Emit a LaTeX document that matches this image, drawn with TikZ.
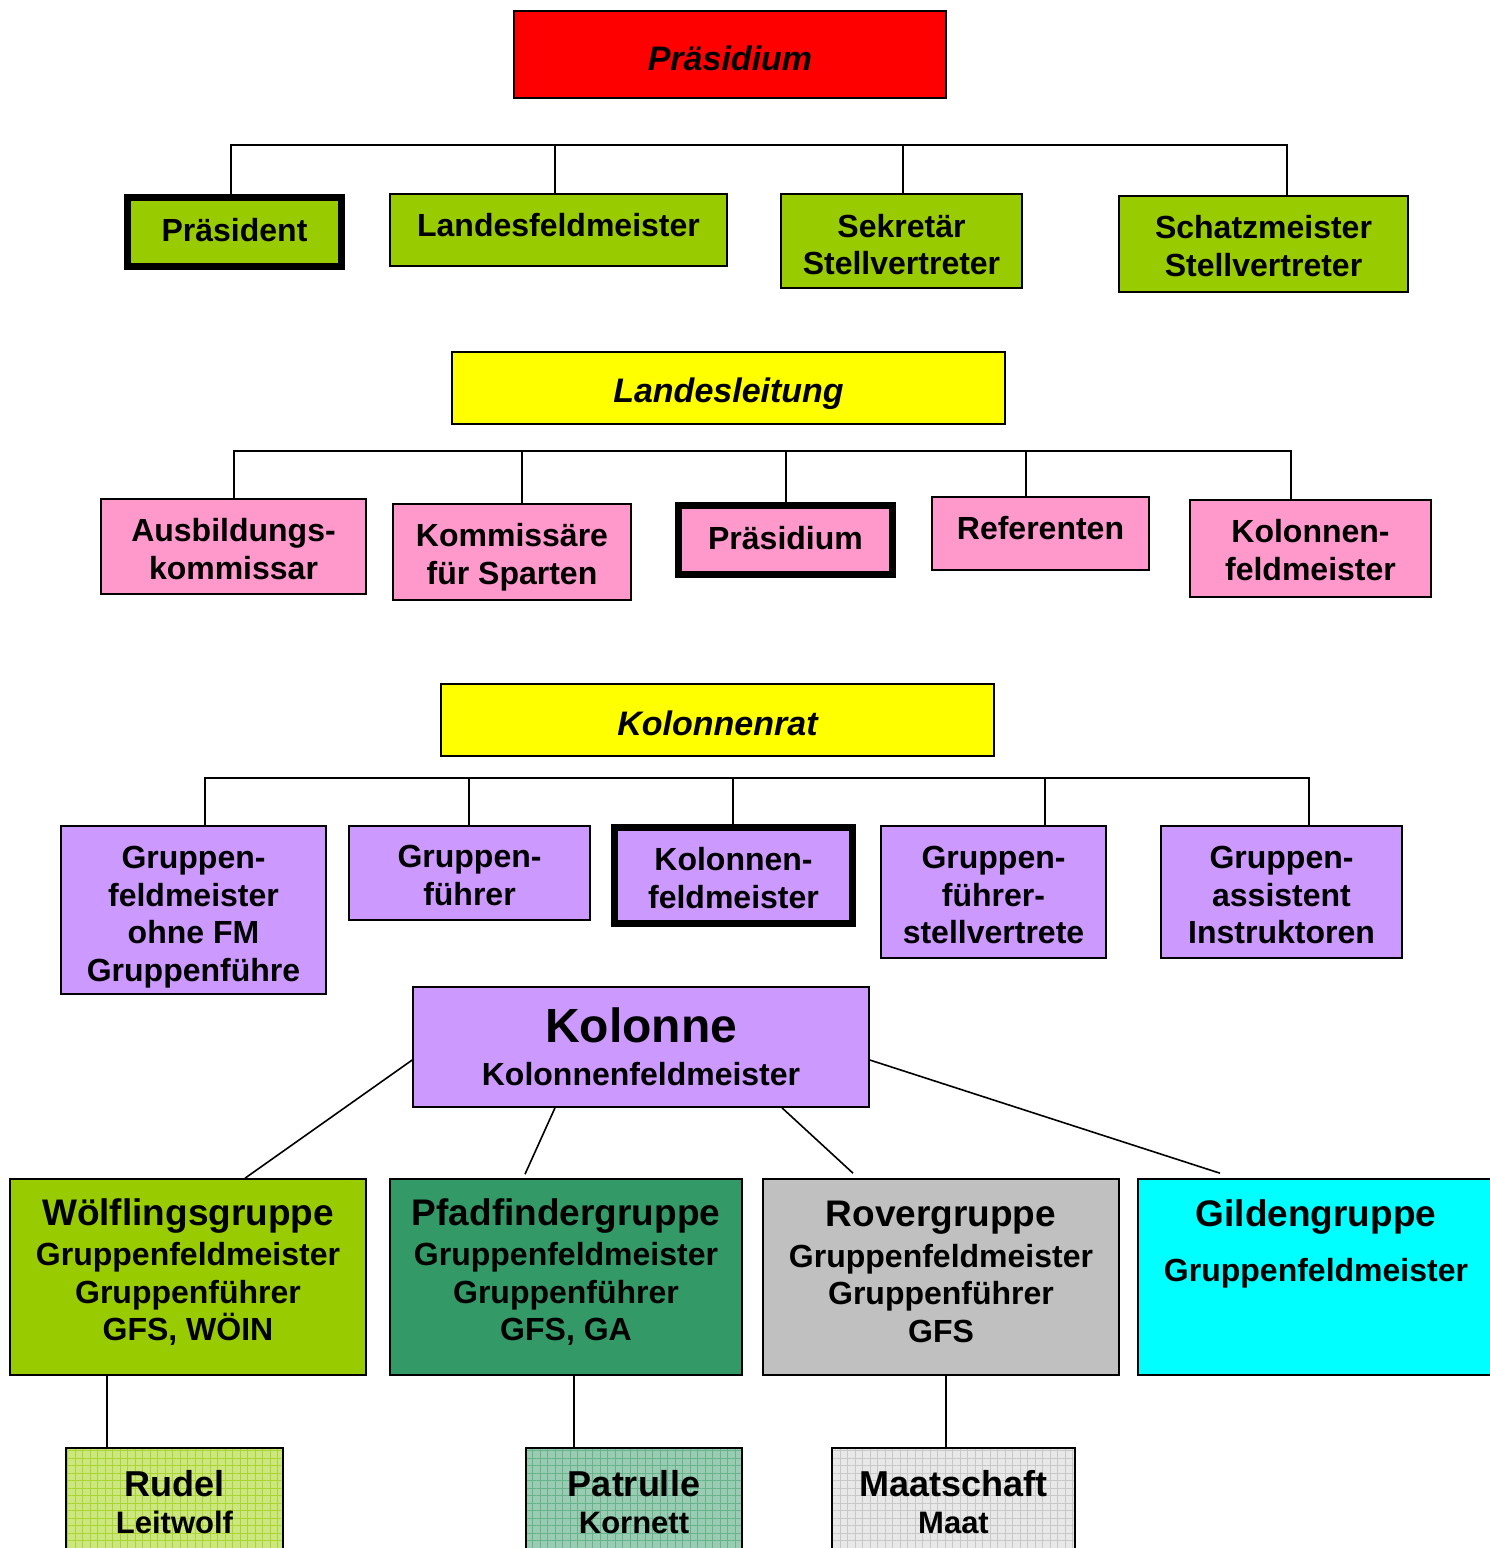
\documentclass[tikz,border=0pt]{standalone}
\usepackage{fontspec}
\setmainfont{Liberation Sans}
\usetikzlibrary{patterns.meta}
\definecolor{cred}{HTML}{FF0000}
\definecolor{cyel}{HTML}{FFFF00}
\definecolor{cgrn}{HTML}{99CC00}
\definecolor{cpink}{HTML}{FF99CC}
\definecolor{cpur}{HTML}{CC99FF}
\definecolor{cdgrn}{HTML}{339966}
\definecolor{cgray}{HTML}{C0C0C0}
\definecolor{ccyan}{HTML}{00FFFF}
\definecolor{lgrn}{HTML}{CCE680}
\definecolor{lgrnl}{HTML}{AAD530}
\definecolor{ldgrn}{HTML}{99CCB3}
\definecolor{ldgrnl}{HTML}{66B38C}
\definecolor{lgray}{HTML}{E8E8E8}
\definecolor{lgrayl}{HTML}{C8C8C8}
\newcommand\szT{\fontsize{34}{40}\bfseries\itshape\selectfont}
\newcommand\szB{\fontsize{32}{37.7}\bfseries\selectfont}
\newcommand\szG{\fontsize{37}{41}\bfseries\selectfont}
\newcommand\szK{\fontsize{48}{48}\bfseries\selectfont}
\newcommand\szR{\fontsize{36}{41}\bfseries\selectfont}
\newcommand\szS{\fontsize{31}{41}\bfseries\selectfont}
\begin{document}
\begin{tikzpicture}[x=1pt,y=-1pt,
  bx/.style={draw=black, line width=1.6pt, inner sep=0pt},
  thk/.style={line width=7pt},
  ln/.style={draw=black, line width=1.6pt},
  txt/.style={inner sep=0pt, align=center, font=\szB},
  grid box/.style 2 args={bx, preaction={fill=#1}, pattern={Hatch[angle=0,distance=7.5pt,line width=0.8pt]}, pattern color=#2}
]
\useasboundingbox (0,0) rectangle (1490,1548);

% ---------- Praesidium ----------
\node[bx, fill=cred, minimum width=432, minimum height=87] (praes) at (730,54.5) {};
\node[txt, font=\szT] (praest) at ([yshift=-4]praes.center) {Präsidium};
\node[bx, thk, fill=cgrn, minimum width=214, minimum height=69] (pres) at (234.5,232) {};
\node[txt] (prest) at ([yshift=2]pres.center) {Präsident};
\node[bx, fill=cgrn, minimum width=337, minimum height=72] (lfm) at (558.5,230) {};
\node[txt] (lfmt) at ([yshift=5]lfm.center) {Landesfeldmeister};
\node[bx, fill=cgrn, minimum width=241, minimum height=94] (sek) at (901.5,241) {};
\node[txt] (sekt) at ([yshift=-3.5]sek.center) {Sekretär\\Stellvertreter};
\node[bx, fill=cgrn, minimum width=289, minimum height=96] (schatz) at (1263.5,244) {};
\node[txt] (schatzt) at ([yshift=-2]schatz.center) {Schatzmeister\\Stellvertreter};

\coordinate (bus1) at (0,145);
\coordinate (t1a) at ([xshift=-3.5]pres.north);
\coordinate (t1b) at ([xshift=-3.5]lfm.north);
\coordinate (t1c) at ([xshift=1.5]sek.north);
\coordinate (t1d) at ([xshift=23.5]schatz.north);
\draw[ln] (t1a) -- (t1a |- bus1) -- (t1d |- bus1) -- (t1d);
\draw[ln] (t1b) -- (t1b |- bus1);
\draw[ln] (t1c) -- (t1c |- bus1);

% ---------- Landesleitung ----------
\node[bx, fill=cyel, minimum width=553, minimum height=72] (ll) at (728.5,388) {};
\node[txt, font=\szT] (llt) at ([yshift=-6]ll.center) {Landesleitung};
\node[bx, fill=cpink, minimum width=265, minimum height=95] (ausb) at (233.5,546.5) {};
\node[txt] (ausbt) at ([yshift=-2.5]ausb.center) {Ausbildungs-\\kommissar};
\node[bx, fill=cpink, minimum width=238, minimum height=96] (komm) at (512,552) {};
\node[txt] (kommt) at ([yshift=-5]komm.center) {Kommissäre\\für Sparten};
\node[bx, thk, fill=cpink, minimum width=214, minimum height=69] (praes2) at (785.5,540) {};
\node[txt] (praes2t) at ([yshift=2]praes2.center) {Präsidium};
\node[bx, fill=cpink, minimum width=217, minimum height=73] (ref) at (1040.5,533.5) {};
\node[txt] (reft) at ([yshift=5]ref.center) {Referenten};
\node[bx, fill=cpink, minimum width=241, minimum height=97] (kfm1) at (1310.5,548.5) {};
\node[txt] (kfm1t) at ([yshift=-1.5]kfm1.center) {Kolonnen-\\feldmeister};

\coordinate (bus2) at (0,451);
\coordinate (t2a) at ([xshift=0.5]ausb.north);
\coordinate (t2b) at ([xshift=10]komm.north);
\coordinate (t2c) at ([xshift=0.5]praes2.north);
\coordinate (t2d) at ([xshift=-14.5]ref.north);
\coordinate (t2e) at ([xshift=-19.5]kfm1.north);
\draw[ln] (t2a) -- (t2a |- bus2) -- (t2e |- bus2) -- (t2e);
\draw[ln] (t2b) -- (t2b |- bus2);
\draw[ln] (t2c) -- (t2c |- bus2);
\draw[ln] (t2d) -- (t2d |- bus2);

% ---------- Kolonnenrat ----------
\node[bx, fill=cyel, minimum width=553, minimum height=72] (kr) at (717.5,720) {};
\node[txt, font=\szT] (krt) at ([yshift=-3]kr.center) {Kolonnenrat};
\node[bx, fill=cpur, minimum width=265, minimum height=168] (gfm) at (193.5,910) {};
\node[txt] (gfmt) at ([yshift=-7]gfm.center) {Gruppen-\\feldmeister\\ohne FM\\Gruppenführe};
\node[bx, fill=cpur, minimum width=241, minimum height=94] (gf) at (469.5,873) {};
\node[txt] (gft) at ([yshift=-2.5]gf.center) {Gruppen-\\führer};
\node[bx, thk, fill=cpur, minimum width=238, minimum height=96] (kfm2) at (733.5,875.5) {};
\node[txt] (kfm2t) at ([yshift=-2.5]kfm2.center) {Kolonnen-\\feldmeister};
\node[bx, fill=cpur, minimum width=225, minimum height=132] (gfs) at (993.5,892) {};
\node[txt] (gfst) at ([yshift=-3]gfs.center) {Gruppen-\\führer-\\stellvertrete};
\node[bx, fill=cpur, minimum width=241, minimum height=132] (ga) at (1281.5,892) {};
\node[txt] (gat) at ([yshift=-3]ga.center) {Gruppen-\\assistent\\Instruktoren};

\coordinate (bus3) at (0,778);
\coordinate (t3a) at ([xshift=11.5]gfm.north);
\coordinate (t3b) at ([xshift=-0.5]gf.north);
\coordinate (t3c) at ([xshift=-0.5]kfm2.north);
\coordinate (t3d) at ([xshift=51.5]gfs.north);
\coordinate (t3e) at ([xshift=27.5]ga.north);
\draw[ln] (t3a) -- (t3a |- bus3) -- (t3e |- bus3) -- (t3e);
\draw[ln] (t3b) -- (t3b |- bus3);
\draw[ln] (t3c) -- (t3c |- bus3);
\draw[ln] (t3d) -- (t3d |- bus3);

% ---------- Kolonne ----------
\node[bx, fill=cpur, minimum width=456, minimum height=120] (kol) at (641,1047) {};
\node[txt] (kolt) at (kol.center) {\szK Kolonne\\[5pt]\szB Kolonnenfeldmeister};

\node[bx, fill=cgrn, minimum width=356, minimum height=196] (woelf) at (188,1277) {};
\node[txt] (woelft) at ([yshift=4.5]woelf.center) {\szG Wölflingsgruppe\\[2pt]\szB Gruppenfeldmeister\\Gruppenführer\\GFS, WÖIN};
\node[bx, fill=cdgrn, minimum width=352, minimum height=196] (pfad) at (566,1277) {};
\node[txt] (pfadt) at ([yshift=4.5]pfad.center) {\szG Pfadfindergruppe\\[2pt]\szB Gruppenfeldmeister\\Gruppenführer\\GFS, GA};
\node[bx, fill=cgray, minimum width=356, minimum height=196] (rover) at (941,1277) {};
\node[txt] (rovert) at ([yshift=5]rover.center) {\szG Rovergruppe\\[3pt]\szB Gruppenfeldmeister\\Gruppenführer\\GFS};
\node[bx, fill=ccyan, minimum width=356, minimum height=196] (gild) at (1316,1277) {};
\node[txt, anchor=north] (gildt1) at ([yshift=-21]gild.north) {\szG Gildengruppe};
\node[txt, anchor=north] (gildt2) at ([yshift=-80]gild.north) {Gruppenfeldmeister};

\draw[ln] ([yshift=-13]kol.west) -- ([xshift=57]woelf.north);
\draw[ln] ([xshift=-86]kol.south) -- ([xshift=-41,yshift=4]pfad.north);
\draw[ln] ([xshift=141]kol.south) -- ([xshift=-88,yshift=5]rover.north);
\draw[ln] ([yshift=-13]kol.east) -- ([xshift=-96,yshift=5]gild.north);

% ---------- bottom ----------
\node[grid box={lgrn}{lgrnl}, minimum width=217, minimum height=108] (rudel) at (174.5,1502) {};
\node[txt] (rudelt) at (rudel.center) {\szR Rudel\\\szS Leitwolf};
\node[grid box={ldgrn}{ldgrnl}, minimum width=216, minimum height=108] (patr) at (634,1502) {};
\node[txt] (patrt) at (patr.center) {\szR Patrulle\\\szS Kornett};
\node[grid box={lgray}{lgrayl}, minimum width=243, minimum height=108] (maat) at (953.5,1502) {};
\node[txt] (maatt) at (maat.center) {\szR Maatschaft\\\szS Maat};

\coordinate (b1) at ([xshift=-81]woelf.south);
\coordinate (b2) at ([xshift=8]pfad.south);
\coordinate (b3) at ([xshift=5]rover.south);
\draw[ln] (b1) -- (b1 |- rudel.north);
\draw[ln] (b2) -- (b2 |- patr.north);
\draw[ln] (b3) -- (b3 |- maat.north);
\end{tikzpicture}
\end{document}
